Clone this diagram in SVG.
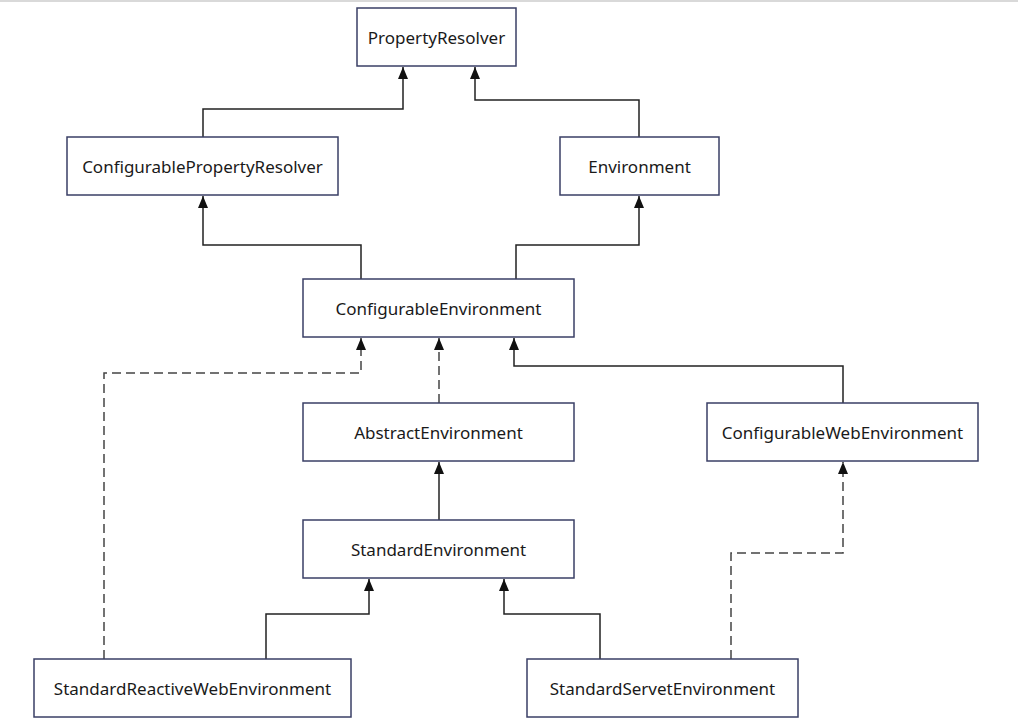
<svg xmlns="http://www.w3.org/2000/svg" width="1018" height="727" viewBox="0 0 1018 727">
<defs>
<marker id="arr" viewBox="0 0 12 10" refX="12" refY="5" markerWidth="12" markerHeight="10" markerUnits="userSpaceOnUse" orient="auto">
<path d="M0,0 L12,5 L0,10 Z" fill="#111"/>
</marker>
<style>
.box{fill:#fff;stroke:#3a3f66;stroke-width:1.5}
.lbl{font-family:"Noto Sans","Open Sans",sans-serif;font-size:17px;fill:#1a1a1a;text-anchor:middle;dominant-baseline:central}
.c{fill:none;stroke:#222;stroke-width:1.5}
.d{fill:none;stroke:#444;stroke-width:1.5;stroke-dasharray:9 5}
</style>
</defs>
<rect width="1018" height="727" fill="#fff"/>
<line x1="0" y1="1" x2="1018" y2="1" stroke="#ccc" stroke-width="1.5"/>
<g id="connectors">
<path class="c" d="M203,137 V109 H403 V67" marker-end="url(#arr)"/>
<path class="c" d="M639,137 V100 H475 V67" marker-end="url(#arr)"/>
<path class="c" d="M361,279 V245 H203 V196" marker-end="url(#arr)"/>
<path class="c" d="M516,279 V245 H639 V196" marker-end="url(#arr)"/>
<path class="d" d="M104,659 V373 H361 V338" marker-end="url(#arr)"/>
<path class="d" d="M439,403 V338" marker-end="url(#arr)"/>
<path class="c" d="M843,403 V366 H514 V338" marker-end="url(#arr)"/>
<path class="c" d="M439,520 V462" marker-end="url(#arr)"/>
<path class="c" d="M266,659 V614 H369 V579" marker-end="url(#arr)"/>
<path class="c" d="M600,659 V614 H504 V579" marker-end="url(#arr)"/>
<path class="d" d="M731,659 V553 H843 V462" marker-end="url(#arr)"/>
</g>
<g id="PropertyResolver"><rect class="box" x="357" y="8" width="159" height="58"/><text class="lbl" x="436.5" y="37">PropertyResolver</text></g>
<g id="ConfigurablePropertyResolver"><rect class="box" x="67" y="137" width="271" height="58"/><text class="lbl" x="202.5" y="166">ConfigurablePropertyResolver</text></g>
<g id="Environment"><rect class="box" x="560" y="137" width="159" height="58"/><text class="lbl" x="639.5" y="166">Environment</text></g>
<g id="ConfigurableEnvironment"><rect class="box" x="303" y="279" width="271" height="58"/><text class="lbl" x="438.5" y="308">ConfigurableEnvironment</text></g>
<g id="AbstractEnvironment"><rect class="box" x="303" y="403" width="271" height="58"/><text class="lbl" x="438.5" y="432">AbstractEnvironment</text></g>
<g id="ConfigurableWebEnvironment"><rect class="box" x="707" y="403" width="271" height="58"/><text class="lbl" x="842.5" y="432">ConfigurableWebEnvironment</text></g>
<g id="StandardEnvironment"><rect class="box" x="303" y="520" width="271" height="58"/><text class="lbl" x="438.5" y="549">StandardEnvironment</text></g>
<g id="StandardReactiveWebEnvironment"><rect class="box" x="34" y="659" width="317" height="58"/><text class="lbl" x="192.5" y="688">StandardReactiveWebEnvironment</text></g>
<g id="StandardServetEnvironment"><rect class="box" x="527" y="659" width="271" height="58"/><text class="lbl" x="662.5" y="688">StandardServetEnvironment</text></g>
</svg>
